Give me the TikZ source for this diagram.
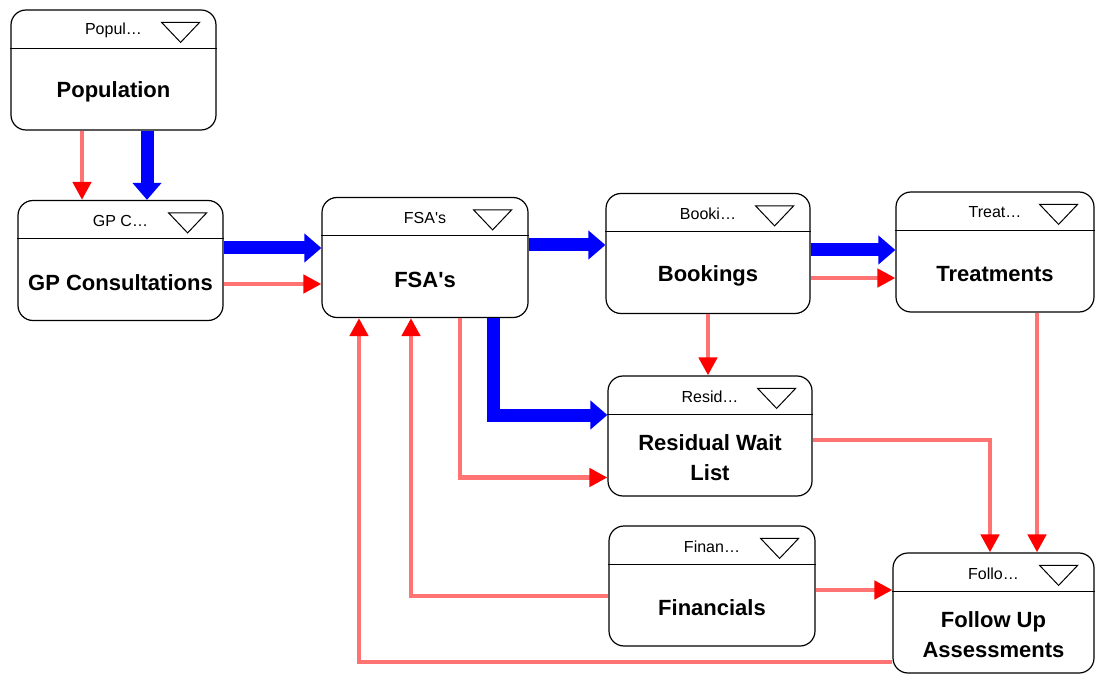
\documentclass[tikz,border=0pt]{standalone}
\usepackage{fontspec}
\setmainfont{Liberation Sans}
\usetikzlibrary{arrows.meta}

\tikzset{
  modbox/.style={draw, line width=1.2pt, rounded corners=15pt, minimum height=120pt, inner sep=0pt},
  hdrtext/.style={font=\fontsize{16}{18}\selectfont},
  titletext/.style={font=\fontsize{22}{30}\selectfont\bfseries, align=center},
  bluflow/.style={draw=blue, line width=13pt, -{Triangle[length=17pt,width=28pt]}},
  redflow/.style={draw=red!55, line width=4.5pt, -{Triangle[length=18pt,width=18pt,color=red]}},
}

\newcommand{\stockbox}[5][205pt]{%
  \node[modbox, minimum width=#1] (#2) at (#3) {};
  \draw[line width=1.2pt] ([yshift=-39pt]#2.north west) -- ([yshift=-39pt]#2.north east);
  \node[hdrtext] (#2-hdr) at ([yshift=-21pt]#2.north) {#4};
  \draw[line width=1pt] ([xshift=-17pt,yshift=-13pt]#2.north east) -- ++(-38pt,0) -- ++(19pt,-20pt) -- cycle;
  \node[titletext] (#2-title) at ([yshift=-22pt]#2.center) {#5};
}

\begin{document}
\begin{tikzpicture}[x=1pt,y=1pt]
\useasboundingbox (0,0) rectangle (1095,673);

\stockbox{pop}{113.5,603}{Popul\ldots}{Population}
\stockbox{gp}{120.5,412.5}{GP C\ldots}{GP Consultations}
\stockbox[206pt]{fsa}{425,415.5}{FSA\textquotesingle s}{FSA\textquotesingle s}
\stockbox[204pt]{book}{708,419.5}{Booki\ldots}{Bookings}
\stockbox[198pt]{treat}{995,421}{Treat\ldots}{Treatments}
\stockbox[204pt]{resid}{710,237}{Resid\ldots}{Residual Wait\\List}
\stockbox[206pt]{fin}{712,87}{Finan\ldots}{Financials}
\stockbox[201pt]{fol}{993.5,60}{Follo\ldots}{Follow Up\\Assessments}

\draw[bluflow] ([xshift=33.5pt]pop.south) -- ([xshift=33.5pt]pop.south |- gp.north);
\draw[bluflow] ([yshift=12.5pt]gp.east) -- ([yshift=12.5pt]gp.east -| fsa.west);
\draw[bluflow] ([yshift=12.5pt]fsa.east) -- ([yshift=12.5pt]fsa.east -| book.west);
\draw[bluflow] ([yshift=3.5pt]book.east) -- ([yshift=3.5pt]book.east -| treat.west);
\draw[bluflow] ([xshift=68pt]fsa.south) |- ([yshift=21pt]resid.west);

\draw[redflow] ([xshift=-31.5pt]pop.south) -- ([xshift=-31.5pt]pop.south |- gp.north);
\draw[redflow] ([yshift=-23.5pt]gp.east) -- ([yshift=-23.5pt]gp.east -| fsa.west);
\draw[redflow] ([yshift=-24.5pt]book.east) -- ([yshift=-24.5pt]book.east -| treat.west);
\draw[redflow] (book.south) -- (book.south |- resid.north);
\draw[redflow] ([xshift=35pt]fsa.south) |- ([yshift=-41.5pt]resid.west);
\draw[redflow] ([yshift=-4pt]resid.east) -| ([xshift=-3.5pt]fol.north);
\draw[redflow] ([xshift=42pt]treat.south) -- ([xshift=42pt]treat.south |- fol.north);
\draw[redflow] ([yshift=-4pt]fin.east) -- ([yshift=-4pt]fin.east -| fol.west);
\draw[redflow] ([yshift=-10pt]fin.west) -| ([xshift=-14pt]fsa.south);
\draw[redflow] ([yshift=-49pt]fol.west) -| ([xshift=-66pt]fsa.south);
\end{tikzpicture}
\end{document}
